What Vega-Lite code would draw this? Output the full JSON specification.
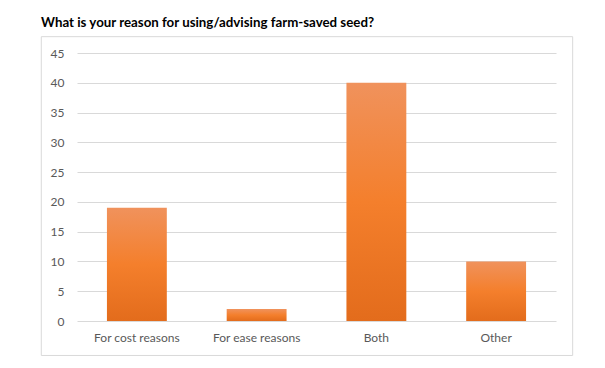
{
  "$schema": "https://vega.github.io/schema/vega-lite/v6.json",
  "width": 479,
  "height": 268,
  "autosize": {"type": "none"},
  "padding": {"left": 77, "top": 53, "right": 49, "bottom": 47},
  "background": "white",
  "config": {
    "view": {"stroke": null},
    "font": "Lato",
    "axis": {"labelFont": "Lato", "labelColor": "#595959", "labelFontSize": 12}
  },
  "title": {
    "text": "What is your reason for using/advising farm-saved seed?",
    "anchor": "start",
    "frame": "group",
    "dx": -36,
    "dy": 19,
    "offset": 15,
    "baseline": "alphabetic",
    "font": "Lato",
    "fontSize": 13.3,
    "fontWeight": "bold",
    "color": "#000000"
  },
  "datasets": {
    "bars": [
      {"reason": "For cost reasons", "count": 19},
      {"reason": "For ease reasons", "count": 2},
      {"reason": "Both", "count": 40},
      {"reason": "Other", "count": 10}
    ],
    "frame": [{"x0": 0, "x1": 1, "y0": -5.79, "y1": 47.74}]
  },
  "layer": [
    {
      "data": {"name": "bars"},
      "mark": {
        "type": "bar",
        "fill": {
          "gradient": "linear",
          "x1": 0, "y1": 0, "x2": 0, "y2": 1,
          "stops": [
            {"offset": 0, "color": "#f0925c"},
            {"offset": 0.5, "color": "#f47f2c"},
            {"offset": 1, "color": "#e36c1c"}
          ]
        }
      },
      "encoding": {
        "x": {
          "field": "reason",
          "type": "nominal",
          "sort": null,
          "scale": {"paddingInner": 0.5, "paddingOuter": 0.25},
          "axis": {"title": null, "labelAngle": 0, "domain": false, "ticks": false, "tickSize": 0, "labelPadding": 11}
        },
        "y": {
          "field": "count",
          "type": "quantitative",
          "scale": {"domain": [0, 45], "nice": false},
          "axis": {"title": null, "values": [0, 5, 10, 15, 20, 25, 30, 35, 40, 45], "domain": false, "ticks": false, "tickSize": 0, "labelPadding": 13, "gridColor": "#d9d9d9", "gridWidth": 1}
        }
      }
    },
    {
      "data": {"name": "frame"},
      "mark": {"type": "rect", "fill": null, "stroke": "#d9d9d9", "strokeWidth": 1},
      "encoding": {
        "x": {"field": "x0", "type": "quantitative", "scale": {"domain": [0.0672, 0.9686], "nice": false, "zero": false}, "axis": null},
        "x2": {"field": "x1"},
        "y": {
          "field": "y0",
          "type": "quantitative",
          "axis": {"title": null, "values": [0, 5, 10, 15, 20, 25, 30, 35, 40, 45], "domain": false, "ticks": false, "tickSize": 0, "labelPadding": 13, "gridColor": "#d9d9d9", "gridWidth": 1}
        },
        "y2": {"field": "y1"}
      }
    }
  ],
  "resolve": {"scale": {"x": "independent"}}
}
